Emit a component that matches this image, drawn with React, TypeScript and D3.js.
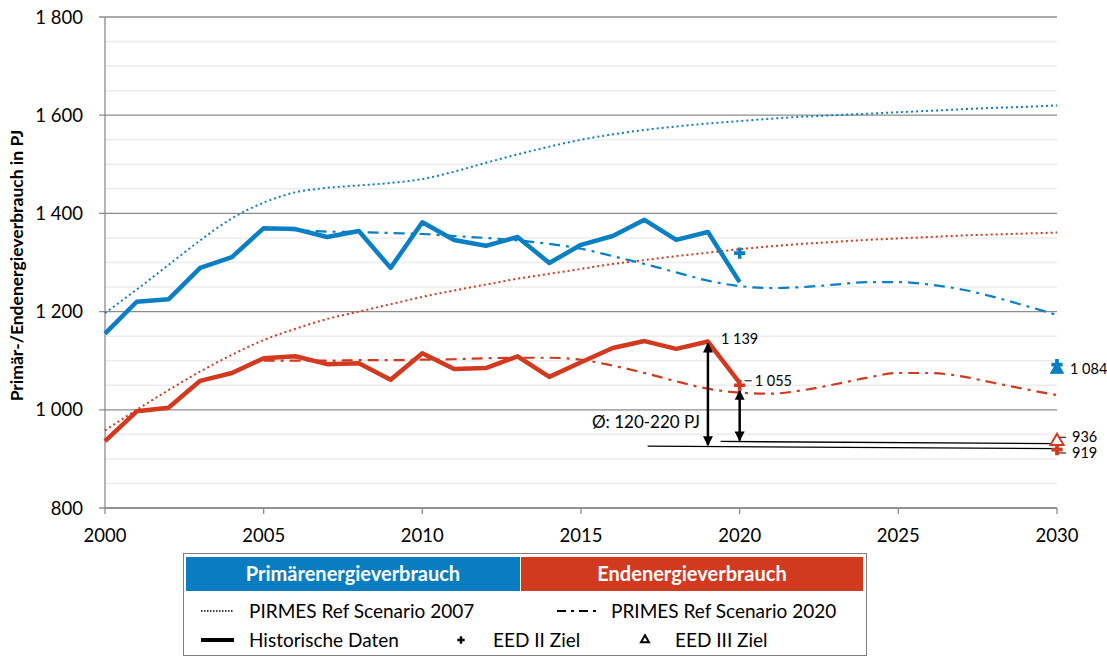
import React from "react";
import * as d3 from "d3";

// Jahre & Werte (PJ)
const histYears = [2000, 2001, 2002, 2003, 2004, 2005, 2006, 2007, 2008, 2009, 2010, 2011, 2012, 2013, 2014, 2015, 2016, 2017, 2018, 2019, 2020];
const primaerHist = [1155, 1220, 1225, 1289, 1311, 1370, 1368, 1352, 1364, 1289, 1382, 1346, 1334, 1352, 1299, 1336, 1354, 1387, 1346, 1362, 1260];
const endHist = [936, 997, 1004, 1059, 1075, 1105, 1109, 1093, 1095, 1061, 1115, 1083, 1085, 1109, 1067, 1097, 1126, 1140, 1124, 1139, 1055];

const ref2007Years = [2000, 2001, 2002, 2003, 2004, 2005, 2006, 2007, 2008, 2009, 2010, 2011, 2012, 2013, 2014, 2015, 2016, 2017, 2018, 2019, 2020, 2021, 2022, 2023, 2024, 2025, 2026, 2027, 2028, 2029, 2030];
const primaerRef2007 = [1197, 1245, 1295, 1345, 1390, 1422, 1443, 1452, 1457, 1462, 1470, 1485, 1503, 1520, 1536, 1550, 1561, 1570, 1577, 1583, 1588, 1593, 1597, 1600, 1603, 1606, 1609, 1612, 1615, 1617, 1620];
const endRef2007 = [958, 1000, 1040, 1078, 1112, 1142, 1165, 1185, 1200, 1215, 1230, 1243, 1255, 1267, 1277, 1287, 1297, 1305, 1313, 1320, 1327, 1333, 1338, 1342, 1346, 1349, 1352, 1355, 1357, 1359, 1361];

const ref2020Years = [2005, 2006, 2007, 2008, 2009, 2010, 2011, 2012, 2013, 2014, 2015, 2016, 2017, 2018, 2019, 2020, 2021, 2022, 2023, 2024, 2025, 2026, 2027, 2028, 2029, 2030];
const primaerRef2020 = [1368, 1366, 1363, 1362, 1360, 1358, 1354, 1350, 1345, 1338, 1328, 1313, 1297, 1280, 1263, 1252, 1248, 1250, 1255, 1260, 1260, 1255, 1245, 1230, 1212, 1193];
const endRef2020 = [1100, 1100, 1100, 1101, 1101, 1102, 1103, 1105, 1106, 1106, 1102, 1090, 1075, 1058, 1043, 1035, 1033, 1040, 1052, 1065, 1075, 1075, 1068, 1055, 1042, 1030];

// EED Ziele
const eed2Primaer = [{ year: 2020, value: 1319 }, { year: 2030, value: 1092 }];
const eed3Primaer = [{ year: 2030, value: 1082 }];
const eed2End = [{ year: 2020, value: 1050 }, { year: 2030, value: 919 }];
const eed3End = [{ year: 2030, value: 936 }];

const yTicks = [800, 1000, 1200, 1400, 1600, 1800];
const xTicks = [2000, 2005, 2010, 2015, 2020, 2025, 2030];
const headers = ["Primärenergieverbrauch", "Endenergieverbrauch"];

const BLUE = "#0b7fc3";
const RED = "#d2391e";
const FONT = "Lato, 'Open Sans', sans-serif";

const fmt = (v: number) => d3.format(",")(v).replace(",", " ");

export default function App() {
  const width = 1107;
  const height = 657;
  const m = { left: 105, right: 1057, top: 17, bottom: 508 };

  const x = d3.scaleLinear().domain([2000, 2030]).range([m.left, m.right]);
  const y = d3.scaleLinear().domain([800, 1800]).range([m.bottom, m.top]);

  const lin = d3
    .line<[number, number]>()
    .x((d) => x(d[0]))
    .y((d) => y(d[1]));
  const smooth = d3
    .line<[number, number]>()
    .x((d) => x(d[0]))
    .y((d) => y(d[1]))
    .curve(d3.curveMonotoneX);

  const zip = (xs: number[], vs: number[]) => xs.map((yr, i) => [yr, vs[i]] as [number, number]);

  const minorTicks = d3.range(850, 1800, 50).filter((v) => v % 200 !== 0);

  const cross = d3.symbol().type(d3.symbolCross).size(70)() as string;
  const tri = d3.symbol().type(d3.symbolTriangle).size(75)() as string;

  const dotted = "2,3";
  const dashDot = "11,6,3,6";

  // Annotation coordinates
  const yr19 = 2019;
  const yr20 = 2020;
  const lowLine: [number, number][] = [[2017.1, 926], [2030, 921]];
  const upLine: [number, number][] = [[2019.4, 935.5], [2030, 931]];

  return (
    <svg width={width} height={height} style={{ position: "absolute", left: 0, top: 0, background: "#fff" }} fontFamily={FONT}>
      <defs>
        <marker id="arrow" viewBox="0 0 10 10" refX="9" refY="5" markerWidth="4" markerHeight="4" orient="auto-start-reverse">
          <path d="M0,0 L10,5 L0,10 z" fill="#000" />
        </marker>
      </defs>
      <rect x={0} y={0} width={width} height={height} fill="#fff" />

      {/* minor grid */}
      {minorTicks.map((t) => (
        <line key={"mg" + t} x1={m.left} x2={m.right} y1={y(t)} y2={y(t)} stroke="#ececec" strokeWidth={1.5} />
      ))}
      {/* major grid */}
      {yTicks.map((t) => (
        <g key={"g" + t}>
          <line x1={m.left - 6} x2={m.right} y1={y(t)} y2={y(t)} stroke="#8c8c8c" strokeWidth={1.3} />
          <text x={83} y={y(t)} dy="0.36em" textAnchor="end" fontSize={18.5} fill="#000">
            {fmt(t)}
          </text>
        </g>
      ))}
      {/* axes */}
      <line x1={m.left} x2={m.left} y1={m.top} y2={m.bottom} stroke="#8c8c8c" strokeWidth={1.3} />
      <line x1={m.left} x2={m.right} y1={m.bottom} y2={m.bottom} stroke="#8c8c8c" strokeWidth={1.3} />
      {xTicks.map((t) => (
        <g key={"x" + t}>
          <line x1={x(t)} x2={x(t)} y1={m.bottom} y2={m.bottom + 6} stroke="#8c8c8c" strokeWidth={1.3} />
          <text x={x(t)} y={542} textAnchor="middle" fontSize={18.5} fill="#000">
            {t}
          </text>
        </g>
      ))}
      <text transform={`translate(23,${(m.top + m.bottom) / 2 + 3}) rotate(-90)`} textAnchor="middle" fontSize={17.5} fontWeight="bold" fill="#000">
        Primär-/Endenergieverbrauch in PJ
      </text>

      {/* Szenario 2007 */}
      <path d={smooth(zip(ref2007Years, primaerRef2007)) || ""} fill="none" stroke={BLUE} strokeWidth={2} strokeDasharray={dotted} />
      <path d={smooth(zip(ref2007Years, endRef2007)) || ""} fill="none" stroke={RED} strokeWidth={2} strokeDasharray={dotted} />
      {/* Szenario 2020 */}
      <path d={smooth(zip(ref2020Years, primaerRef2020)) || ""} fill="none" stroke={BLUE} strokeWidth={2.2} strokeDasharray={dashDot} />
      <path d={smooth(zip(ref2020Years, endRef2020)) || ""} fill="none" stroke={RED} strokeWidth={2.2} strokeDasharray={dashDot} />
      {/* Historisch */}
      <path d={lin(zip(histYears, primaerHist)) || ""} fill="none" stroke={BLUE} strokeWidth={4.5} strokeLinejoin="round" />
      <path d={lin(zip(histYears, endHist)) || ""} fill="none" stroke={RED} strokeWidth={4.5} strokeLinejoin="round" />

      {/* Annotationen */}
      <path d={lin(lowLine) || ""} stroke="#000" strokeWidth={1.3} fill="none" />
      <path d={lin(upLine) || ""} stroke="#000" strokeWidth={1.3} fill="none" />
      <line x1={x(yr19)} x2={x(yr19)} y1={y(endHist[19]) + 2} y2={y(926) - 1} stroke="#000" strokeWidth={2.5} markerStart="url(#arrow)" markerEnd="url(#arrow)" />
      <line x1={x(yr20)} x2={x(yr20)} y1={y(endHist[20]) + 8} y2={y(935.5) - 1} stroke="#000" strokeWidth={2.5} markerStart="url(#arrow)" markerEnd="url(#arrow)" />
      <text x={700} y={y(962)} textAnchor="end" fontSize={17} fill="#000">
        Ø: 120-220 PJ
      </text>
      <text x={x(yr19) + 13} y={y(endHist[19]) + 2} fontSize={14.5} fill="#000">
        {fmt(endHist[19])}
      </text>
      <line x1={x(yr20) + 5} x2={x(yr20) + 12} y1={y(endHist[20]) - 2} y2={y(endHist[20]) - 2} stroke="#000" strokeWidth={1} />
      <text x={x(yr20) + 15} y={y(endHist[20]) + 3} fontSize={14.5} fill="#000">
        {fmt(endHist[20])}
      </text>
      <text x={x(2030) + 13} y={y(1084) + 5} fontSize={14.5} fill="#000">
        {fmt(1084)}
      </text>
      <polyline points={`${x(2030)},${y(936) + 2} ${x(2030) + 2},${y(944)} ${x(2030) + 9},${y(944)}`} fill="none" stroke="#000" strokeWidth={1} />
      <text x={x(2030) + 15} y={y(944) + 5} fontSize={14.5} fill="#000">
        {fmt(eed3End[0].value)}
      </text>
      <polyline points={`${x(2030)},${y(919) + 2} ${x(2030) + 2},${y(912)} ${x(2030) + 9},${y(912)}`} fill="none" stroke="#000" strokeWidth={1} />
      <text x={x(2030) + 15} y={y(912) + 5} fontSize={14.5} fill="#000">
        {fmt(eed2End[1].value)}
      </text>

      {/* EED Marker */}
      {eed3Primaer.map((d, i) => (
        <path key={"p3" + i} d={tri} transform={`translate(${x(d.year)},${y(d.value)})`} fill={BLUE} stroke={BLUE} strokeWidth={1} />
      ))}
      {eed2Primaer.map((d, i) => (
        <path key={"p2" + i} d={cross} transform={`translate(${x(d.year)},${y(d.value)})`} fill={BLUE} />
      ))}
      {eed3End.map((d, i) => (
        <path key={"e3" + i} d={tri} transform={`translate(${x(d.year)},${y(d.value)})`} fill="#fff" stroke={RED} strokeWidth={2} />
      ))}
      {eed2End.map((d, i) => (
        <path key={"e2" + i} d={cross} transform={`translate(${x(d.year)},${y(d.value)})`} fill={RED} />
      ))}

      {/* Legende */}
      <rect x={183.5} y={553.5} width={683} height={102} fill="#fff" stroke="#7f7f7f" strokeWidth={1} />
      {headers.map((h, i) => {
        const hx = i === 0 ? 186 : 521;
        const hw = i === 0 ? 334 : 342;
        return (
          <g key={h}>
            <rect x={hx} y={557} width={hw} height={34} fill={i === 0 ? "#0a7dc0" : "#d13a1f"} />
            <text x={hx + hw / 2} y={581} textAnchor="middle" fontSize={20} fontWeight="bold" fill="#fff">
              {h}
            </text>
          </g>
        );
      })}
      <line x1={201} x2={234} y1={611} y2={611} stroke="#000" strokeWidth={1.5} strokeDasharray="1.5,1.5" />
      <text x={249} y={618} fontSize={19} fill="#000">PIRMES Ref Scenario 2007</text>
      <line x1={557} x2={596} y1={611} y2={611} stroke="#000" strokeWidth={2} strokeDasharray="9,5,3,5" />
      <text x={611} y={618} fontSize={19} fill="#000">PRIMES Ref Scenario 2020</text>
      <line x1={201} x2={234} y1={640} y2={640} stroke="#000" strokeWidth={4} />
      <text x={249} y={647} fontSize={19} fill="#000">Historische Daten</text>
      <path d={d3.symbol().type(d3.symbolCross).size(30)() as string} transform="translate(461,640)" fill="#000" />
      <text x={493} y={647} fontSize={19} fill="#000">EED II Ziel</text>
      <path d={d3.symbol().type(d3.symbolTriangle).size(28)() as string} transform="translate(645,640)" fill="none" stroke="#000" strokeWidth={2} />
      <text x={675} y={647} fontSize={19} fill="#000">EED III Ziel</text>
    </svg>
  );
}
